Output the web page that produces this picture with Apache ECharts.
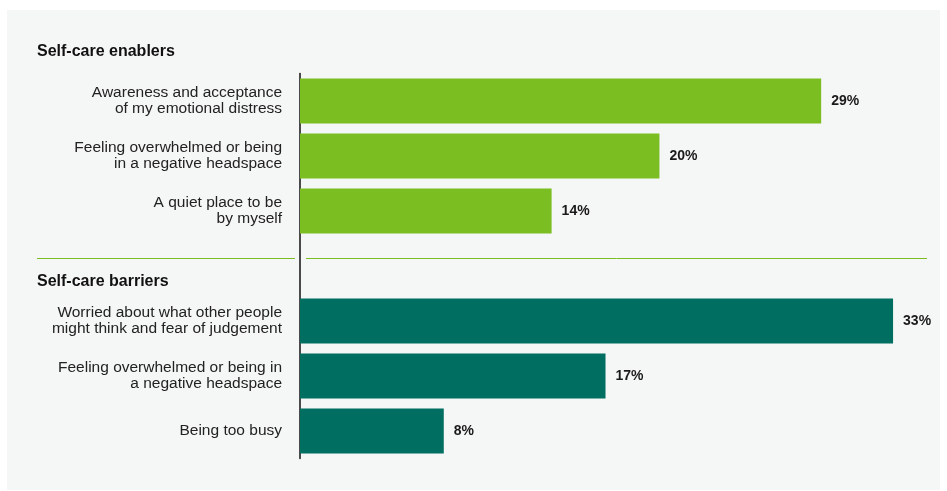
<!DOCTYPE html>
<html><head><meta charset="utf-8">
<script src="https://cdn.jsdelivr.net/npm/echarts@6/dist/echarts.min.js"></script>
<style>html,body{margin:0;padding:0;background:#fff}#c{width:947px;height:491px}</style>
</head><body><div id="c"></div>
<script>
const categories = [
  'Awareness and acceptance\nof my emotional distress',
  'Feeling overwhelmed or being\nin a negative headspace',
  'A quiet place to be\nby myself',
  '',
  'Worried about what other people\nmight think and fear of judgement',
  'Feeling overwhelmed or being in\na negative headspace',
  'Being too busy'
];
const enablers = [29, 20, 14, null, null, null, null];
const barriers = [null, null, null, null, 33, 17, 8];
const headings = ['Self-care enablers', 'Self-care barriers'];

const chart = echarts.init(document.getElementById('c'));
const font = 'Liberation Sans, Arial, sans-serif';
const labelCfg = {show: true, position: 'right', distance: 10, formatter: '{c}%', color: '#1a1a1a', fontFamily: font, fontSize: 14, fontWeight: 'bold'};
chart.setOption({
  backgroundColor: '#ffffff',
  animation: false,
  graphic: [
    {type: 'rect', z: -10, shape: {x: 7, y: 10, width: 933, height: 480}, style: {fill: '#f5f7f6'}},
    {type: 'text', left: 37, top: 44, style: {text: headings[0], font: 'bold 16px ' + font, fill: '#111'}},
    {type: 'text', left: 37, top: 274, style: {text: headings[1], font: 'bold 16px ' + font, fill: '#111'}},
    {type: 'line', shape: {x1: 37, y1: 258.5, x2: 295, y2: 258.5}, style: {stroke: '#7bbe22', lineWidth: 1}},
    {type: 'line', shape: {x1: 306, y1: 258.5, x2: 927, y2: 258.5}, style: {stroke: '#7bbe22', lineWidth: 1}}
  ],
  grid: {left: 300, top: 73.5, height: 385, width: 629, containLabel: false},
  xAxis: {type: 'value', min: 0, max: 35, show: false},
  yAxis: {
    type: 'category', data: categories, inverse: true,
    axisLine: {show: true, lineStyle: {color: '#111', width: 1.5}},
    axisTick: {show: false},
    axisLabel: {margin: 18, color: '#222', fontFamily: font, fontSize: 15.5, lineHeight: 16, align: 'right', padding: [0, 0, 3, 0]}
  },
  series: [
    {type: 'bar', data: enablers, barWidth: 45, barGap: '-100%', itemStyle: {color: '#7bbe22'}, label: labelCfg},
    {type: 'bar', data: barriers, barWidth: 45, barGap: '-100%', itemStyle: {color: '#006e60'}, label: labelCfg}
  ]
});
</script></body></html>
